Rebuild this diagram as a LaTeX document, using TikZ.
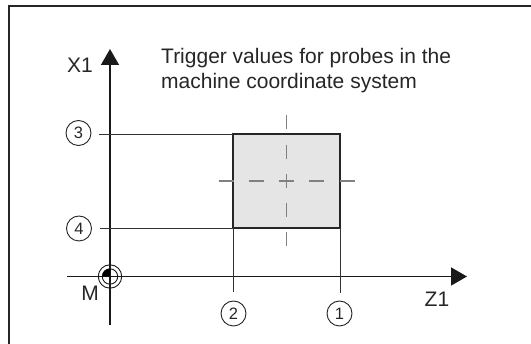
\documentclass[tikz,border=0pt]{standalone}
\usepackage{fontspec}
\setmainfont{Liberation Sans}
\usetikzlibrary{arrows.meta}
\begin{document}
\begin{tikzpicture}[x=1pt,y=-1pt,
  axis/.style={line width=1.6pt, draw=black!90, -{Triangle[length=16pt,width=18pt]}},
  thinline/.style={line width=0.9pt, draw=black!80},
  num/.style={circle, draw=black!85, line width=0.9pt, minimum size=25pt, inner sep=0pt, font=\fontsize{16.5}{16.5}\selectfont, text=black!85},
  lbl/.style={inner sep=0pt, font=\fontsize{21}{21}\selectfont, text=black!85},
  crossline/.style={draw=black!50, line width=1.3pt},
  probebox/.style={draw=black!85, fill=black!10, line width=1.8pt, minimum width=107pt, minimum height=94pt, inner sep=0pt, outer sep=0pt}]
\useasboundingbox (0,0) rectangle (531,344);
% frame
\draw[line width=2pt, draw=black!85] (8.7,344) -- (8.7,6) -- (531,6);
% title
\node[lbl, anchor=base west] (t1) at (161,64) {Trigger values for probes in the};
\node[lbl, anchor=base west] (t2) at (161,89) {machine coordinate system};
% axes
\coordinate (yb) at (110,325);
\coordinate (yt) at (110,49);
\coordinate (xl) at (67,276.5);
\coordinate (xr) at (467,276.5);
\draw[axis] (yb) -- (yt);
\draw[axis] (xl) -- (xr);
\node[lbl, anchor=base] (X1) at (80,73) {X1};
\node[lbl, anchor=base] (Z1) at (437,307) {Z1};
\node[lbl, anchor=base] (M) at (90,301) {M};
% origin symbol
\node[circle, draw=black!90, line width=0.9pt, minimum size=23.4pt, inner sep=0pt] (M0) at (110,276.5) {};
\node[circle, draw=black!90, line width=0.9pt, minimum size=15.4pt, inner sep=0pt] (M1) at (M0.center) {};
\fill[black] ([xshift=-7.7pt]M1.center) arc[start angle=180, end angle=90, radius=7.7pt] -- (M1.center) -- cycle;
% box
\node[probebox] (box) at (286.5,181) {};
\coordinate (hl) at ([xshift=-68pt]box.center);
\coordinate (hr) at ([xshift=68pt]box.center);
\coordinate (vt) at ([yshift=65.5pt]box.center);
\coordinate (vb) at ([yshift=-65.5pt]box.center);
\draw[crossline, dash pattern=on 15pt off 15.25pt] (hl) -- (hr);
\draw[crossline, dash pattern=on 14pt off 15.25pt] (vt) -- (vb);
% circled numbers
\node[num] (c3) at (78.5,133) {3};
\node[num] (c4) at (79,228.5) {4};
\node[num] (c2) at (233.5,313.5) {2};
\node[num] (c1) at (339.5,313.5) {1};
% reference lines
\draw[thinline, shorten >=8pt] (box.north west) -- (box.north west -| c3.east);
\draw[thinline, shorten >=8.5pt] (box.south west) -- (box.south west -| c4.east);
\draw[thinline, shorten >=9pt] (box.south west) -- (box.south west |- c2.north);
\draw[thinline, shorten >=8pt] (box.south east) -- (box.south east |- c1.north);
\end{tikzpicture}
\end{document}
